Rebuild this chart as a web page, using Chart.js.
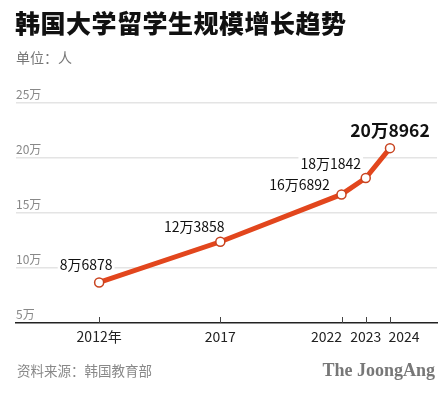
<!DOCTYPE html>
<html>
<head>
<meta charset="utf-8">
<script src="https://cdn.jsdelivr.net/npm/chart.js@4"></script>
<style>
  html, body { margin: 0; padding: 0; background: #fff; }
  .wrap { position: relative; width: 445px; height: 397px; overflow: hidden; font-family: "Noto Sans CJK SC", "Noto Sans", sans-serif; }
  .title { position: absolute; left: 15px; top: 5px; font-size: 25px; font-weight: 900; color: #111; letter-spacing: 0.5px; line-height: 34px; }
  .unit { position: absolute; left: 16px; top: 47px; font-size: 14px; color: #777; line-height: 20px; }
  .source { position: absolute; left: 17px; top: 360px; font-size: 13.5px; color: #888; line-height: 20px; }
  .logo { position: absolute; right: 10px; top: 358px; font-family: "Liberation Serif", "DejaVu Serif", serif; font-weight: bold; font-size: 18px; color: #777; line-height: 24px; }
  canvas { position: absolute; left: 0; top: 0; }
</style>
</head>
<body>
<div class="wrap">
  <canvas id="chart" width="445" height="397"></canvas>
  <div class="title">韩国大学留学生规模增长趋势</div>
  <div class="unit">单位：人</div>
  <div class="source">资料来源：韩国教育部</div>
  <div class="logo">The JoongAng</div>
</div>
<script>
// data
const years = [2012, 2017, 2022, 2023, 2024];
const yearLabels = ['2012年', '2017', '2022', '2023', '2024'];
const students = [86878, 123858, 166892, 181842, 208962];
const yTicks = [50000, 100000, 150000, 200000, 250000];

// label placement (text centre relative to point / tick, px)
const labelOffsets = [[-13, -19], [-26, -16], [-42, -11], [-35, -15], [0, -19]];
const yearLabelShift = [0, 0, -15, 0, 14];

const lineColor = '#e2461d';

function fmtWan(v) {
    const wan = Math.floor(v / 10000);
    const rest = v % 10000;
    return rest ? wan + '万' + rest : wan + '万';
}

// small tick marks pointing up from the x axis, plus the year labels
const xAxisExtras = {
    id: 'xAxisExtras',
    afterDraw(chart) {
        const ctx = chart.ctx;
        const x = chart.scales.x;
        const bottom = chart.chartArea.bottom;
        ctx.save();
        ctx.strokeStyle = '#444';
        ctx.lineWidth = 1;
        x.ticks.forEach(t => {
            const px = Math.round(x.getPixelForValue(t.value)) + 0.5;
            ctx.beginPath();
            ctx.moveTo(px, bottom);
            ctx.lineTo(px, bottom - 6);
            ctx.stroke();
        });
        ctx.fillStyle = '#222';
        ctx.font = '14px "Noto Sans CJK SC", sans-serif';
        ctx.textAlign = 'center';
        ctx.textBaseline = 'middle';
        years.forEach((y, i) => {
            ctx.fillText(yearLabels[i], x.getPixelForValue(y) + yearLabelShift[i], bottom + 14);
        });
        ctx.restore();
    }
};

// value labels with white background
const valueLabels = {
    id: 'valueLabels',
    afterDatasetsDraw(chart) {
        const ctx = chart.ctx;
        const meta = chart.getDatasetMeta(0);
        ctx.save();
        ctx.textAlign = 'center';
        ctx.textBaseline = 'middle';
        meta.data.forEach((pt, i) => {
            const last = i === meta.data.length - 1;
            ctx.font = (last ? 'bold 17.5px' : '14px') + ' "Noto Sans CJK SC", sans-serif';
            const text = fmtWan(students[i]);
            const cx = pt.x + labelOffsets[i][0];
            const cy = pt.y + labelOffsets[i][1];
            const w = ctx.measureText(text).width;
            const h = last ? 20 : 16;
            ctx.fillStyle = '#fff';
            ctx.fillRect(cx - w / 2 - 2, cy - h / 2, w + 4, h);
            ctx.fillStyle = '#111';
            ctx.fillText(text, cx, cy + 1);
        });
        ctx.restore();
    }
};

new Chart(document.getElementById('chart'), {
    type: 'line',
    data: {
        datasets: [{
            data: years.map((y, i) => ({ x: y, y: students[i] })),
            borderColor: lineColor,
            borderWidth: 5,
            tension: 0,
            pointRadius: 4.5,
            pointBorderWidth: 1.5,
            pointBackgroundColor: '#fff',
            pointBorderColor: '#c8431f'
        }]
    },
    options: {
        responsive: false,
        animation: false,
        layout: { padding: { top: 103, left: 16, right: 8, bottom: 44 } },
        plugins: {
            legend: { display: false },
            tooltip: { enabled: false }
        },
        scales: {
            x: {
                type: 'linear',
                min: 2008.57,
                max: 2025.94,
                afterBuildTicks: s => { s.ticks = years.map(v => ({ value: v })); },
                afterFit: s => { s.height = 30; },
                grid: { drawOnChartArea: false, drawTicks: false },
                border: { display: true, color: '#222', width: 1.5 },
                ticks: { display: false }
            },
            y: {
                min: yTicks[0],
                max: yTicks[yTicks.length - 1],
                afterBuildTicks: s => { s.ticks = yTicks.map(v => ({ value: v })); },
                afterFit: s => { s.width = 0; },
                grid: {
                    drawTicks: false,
                    lineWidth: 1.5,
                    color: c => c.tick && c.tick.value === yTicks[0] ? 'rgba(0,0,0,0)' : '#e4e4e4'
                },
                border: { display: false },
                ticks: {
                    mirror: true,
                    padding: 0,
                    labelOffset: -9,
                    color: '#888',
                    font: { family: '"Noto Sans CJK SC", sans-serif', size: 12 },
                    callback: v => fmtWan(v)
                }
            }
        }
    },
    plugins: [xAxisExtras, valueLabels]
});
</script>
</body>
</html>
